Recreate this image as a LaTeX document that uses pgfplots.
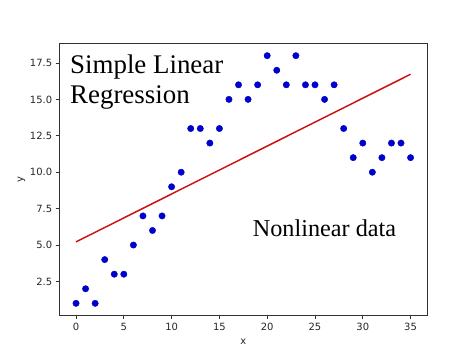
\documentclass[border=0pt]{standalone}
\usepackage{pgfplots}
\pgfplotsset{compat=1.18}
\usepackage{fontspec}
\setmainfont{DejaVu Sans}
\newfontfamily\timesfont{Liberation Serif}
\definecolor{ptblue}{RGB}{0,0,205}
\definecolor{linered}{RGB}{204,20,20}
\definecolor{framec}{RGB}{50,50,50}
\pgfplotstableread{
x y
0 1
1 2
2 1
3 4
4 3
5 3
6 5
7 7
8 6
9 7
10 9
11 10
12 13
13 13
14 12
15 13
16 15
17 16
18 15
19 16
20 18
21 17
22 16
23 18
24 16
25 16
26 15
27 16
28 13
29 11
30 12
31 10
32 11
33 12
34 12
35 11
}\datatable
\begin{document}
\begin{tikzpicture}
\useasboundingbox (-59.3bp,-39.3bp) rectangle (414.7bp,315.7bp);
\begin{axis}[
  scale only axis,
  width=368bp, height=272.4bp,
  xmin=-1.75, xmax=36.75,
  ymin=0.15, ymax=18.85,
  xtick={0,5,...,35},
  ytick={2.5,5,7.5,10,12.5,15,17.5},
  yticklabel style={/pgf/number format/.cd,fixed,fixed zerofill,precision=1},
  /pgf/number format/assume math mode=true,
  tick align=outside,
  tick pos=left,
  major tick length=3.6bp,
  every tick/.style={framec, line width=0.8bp},
  axis line style={framec, line width=0.8bp},
  ticklabel style={font=\fontsize{10}{12}\selectfont, text=black!85},
  label style={font=\fontsize{10}{12}\selectfont, text=black!85},
  xlabel={x}, ylabel={y},
  xlabel style={yshift=-2bp},
  ylabel style={yshift=-2bp},
  clip=false,
]
\addplot[only marks, mark=*, mark size=3.2bp, ptblue, mark options={draw=ptblue, fill=ptblue}] table[x=x,y=y] {\datatable};
\addplot[linered, line width=1.5bp] coordinates {(0,5.218) (35,16.726)};
\end{axis}
\node[anchor=base west, inner sep=0pt, font=\timesfont\fontsize{27}{30}\selectfont] at (10.7bp,242.4bp) {Simple Linear};
\node[anchor=base west, inner sep=0pt, font=\timesfont\fontsize{27}{30}\selectfont] at (10.7bp,211.7bp) {Regression};
\node[anchor=base west, inner sep=0pt, font=\timesfont\fontsize{24.3}{28}\selectfont] at (193.4bp,79bp) {Nonlinear data};
\end{tikzpicture}
\end{document}
